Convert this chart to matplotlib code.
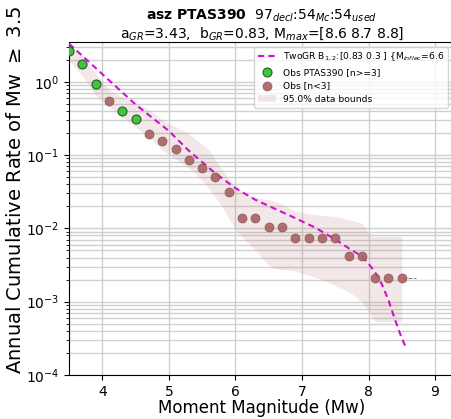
import matplotlib.pyplot as plt
import numpy as np

# observed cumulative rates (step 0.2 in magnitude)
obs_mag = [3.5, 3.7, 3.9, 4.1, 4.3, 4.5, 4.7, 4.9, 5.1, 5.3, 5.5, 5.7, 5.9,
           6.1, 6.3, 6.5, 6.7, 6.9, 7.1, 7.3, 7.5, 7.7, 7.9, 8.1, 8.3, 8.5]
obs_rate = [2.63, 1.73, 0.93, 0.54, 0.405, 0.31, 0.193, 0.158, 0.12, 0.086,
            0.067, 0.0495, 0.031, 0.0137, 0.0137, 0.0105, 0.0105, 0.0073,
            0.0073, 0.0073, 0.0073, 0.0042, 0.0042, 0.0021, 0.0021, 0.0021]
obs_enough = [True, True, True, False, True, True] + [False] * 20

# two-segment GR model curve
model_mag = [3.5, 4.0, 4.5, 5.0, 5.3, 5.7, 6.0, 6.3, 6.6, 6.9, 7.2, 7.5, 7.7,
             7.9, 8.0, 8.1, 8.2, 8.3, 8.4, 8.5, 8.56]
model_log_rate = [0.52, 0.105, -0.31, -0.67, -0.94, -1.25, -1.45, -1.61,
                  -1.735, -1.86, -1.99, -2.15, -2.27, -2.38, -2.48, -2.60,
                  -2.76, -2.98, -3.25, -3.50, -3.62]

# 95% data bounds (log10 rate)
band_mag = [3.5, 3.7, 3.9, 4.1, 4.5, 4.7, 4.9, 5.3, 5.4, 5.6, 5.8, 6.0, 6.3,
            6.5, 6.6, 6.9, 7.1, 7.3, 7.6, 7.7, 7.9, 8.05, 8.1, 8.5]
band_upper = [0.52, 0.36, 0.12, -0.12, -0.29, -0.38, -0.52, -0.71, -0.78,
              -0.93, -1.2, -1.45, -1.58, -1.61, -1.63, -1.76, -1.8, -1.82,
              -1.85, -1.88, -1.93, -2.11, -2.11, -2.11]
band_lower = [0.29, 0.08, -0.18, -0.34, -0.62, -0.75, -0.93, -1.18, -1.25,
              -1.45, -1.7, -2.02, -2.3, -2.5, -2.55, -2.58, -2.64, -2.7,
              -2.82, -2.86, -3.0, -3.2, -3.27, -3.27]

title_text = (r"$\bf{asz\ PTAS390}$  97$_{decl}$:54$_{Mc}$:54$_{used}$" "\n"
              r"a$_{GR}$=3.43,  b$_{GR}$=0.83, M$_{max}$=[8.6 8.7 8.8]")

fig = plt.figure(figsize=(4.52, 4.19), dpi=100)
ax = fig.add_axes([0.1527, 0.105, 0.854, 0.795])

ax.fill_between(band_mag, 10 ** np.array(band_upper), 10 ** np.array(band_lower),
                color=(0.75, 0.5, 0.5), alpha=0.18, lw=0,
                label='95.0% data bounds', zorder=1)
ax.plot(model_mag, 10 ** np.array(model_log_rate), '--', color='#d010d0', lw=1.5,
        dashes=(3, 2), label=r'TwoGR B$_{1,2}$:[0.83 0.3 ] {M$_{inflec}$=6.6',
        zorder=4)
ax.plot([8.5, 8.72], [obs_rate[-1], obs_rate[-1]], '--', color='grey', lw=0.8,
        zorder=2)

mag = np.array(obs_mag)
rate = np.array(obs_rate)
ok = np.array(obs_enough)
ax.scatter(mag[ok], rate[ok], s=42, c='#3fc43f', edgecolors='#2a5a2a',
           linewidths=0.8, label='Obs PTAS390 [n>=3]', zorder=5)
ax.scatter(mag[~ok], rate[~ok], s=42, c='#a86262', edgecolors='#8a4c4c',
           linewidths=0.5, alpha=0.9, label='Obs [n<3]', zorder=5)

ax.set_yscale('log')
ax.set_xlim(3.5, 9.3)
ax.set_ylim(1e-4, 3.5)
ax.grid(True, which='major', axis='x', color='#d0d0d0', lw=1)
ax.grid(True, which='both', axis='y', color='#d0d0d0', lw=1)
ax.set_axisbelow(True)
ax.tick_params(labelsize=10)

ax.set_xlabel('Moment Magnitude (Mw)', fontsize=12, labelpad=0)
ax.set_ylabel(r'Annual Cumulative Rate of Mw $\geq$ 3.5', fontsize=14)
ax.yaxis.set_label_coords(-0.114, 0.556)
ax.set_title(title_text, fontsize=10, pad=2, linespacing=1.05)

handles, labels = ax.get_legend_handles_labels()
order = [1, 2, 3, 0]
ax.legend([handles[i] for i in order], [labels[i] for i in order],
          loc='upper left', bbox_to_anchor=(0.479, 0.985), borderaxespad=0,
          fontsize=6.6, framealpha=0.8)

fig.savefig('out.png', dpi=100)
